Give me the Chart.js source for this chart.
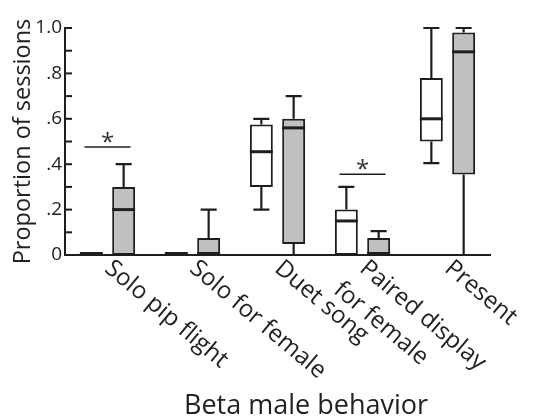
<!DOCTYPE html>
<html>
<head>
<meta charset="utf-8">
<script src="https://cdn.jsdelivr.net/npm/chart.js@4"></script>
<style>
  body { margin: 0; background: #fff; }
  #wrap { width: 549px; height: 417px; }
</style>
</head>
<body>
<div id="wrap"><canvas id="boxChart"></canvas></div>
<script>
// categories on the x axis
const categories = ['Solo pip flight', 'Solo for female', 'Duet song', ['Paired display', 'for female'], 'Present'];

// white boxes
const whiteMin = [0, 0, 0.20, 0, 0.405];
const whiteQ1  = [0, 0, 0.30, 0, 0.50];
const whiteMed = [0, 0, 0.455, 0.15, 0.60];
const whiteQ3  = [0, 0, 0.575, 0.20, 0.78];
const whiteMax = [0, 0, 0.60, 0.30, 1.0];

// gray boxes
const grayMin = [0, 0, 0, 0, 0];
const grayQ1  = [0, 0, 0.048, 0, 0.355];
const grayMed = [0.20, 0, 0.56, 0, 0.895];
const grayQ3  = [0.30, 0.075, 0.60, 0.075, 0.98];
const grayMax = [0.40, 0.20, 0.70, 0.105, 1.0];

// significance bars (null = none)
const sigLevels = [0.476, null, null, 0.356, null];

// y ticks
const yTickLabels = { 0: '0', 2: '.2', 4: '.4', 6: '.6', 8: '.8', 10: '1.0' };

const INK = '#1e1e1e';
const FONT = '"Open Sans", "Noto Sans", sans-serif';

const boxStats = [
    { min: whiteMin, q1: whiteQ1, med: whiteMed, q3: whiteQ3, max: whiteMax },
    { min: grayMin, q1: grayQ1, med: grayMed, q3: grayQ3, max: grayMax }
];

// whiskers, medians, inner ticks, labels
const boxPlugin = {
    id: 'boxPlugin',
    afterDatasetsDraw(chart) {
        const ctx = chart.ctx;
        const y = chart.scales.y;
        const x = chart.scales.x;
        const area = chart.chartArea;

        ctx.save();
        ctx.strokeStyle = INK;
        ctx.lineCap = 'butt';

        boxStats.forEach((s, di) => {
            const meta = chart.getDatasetMeta(di);
            meta.data.forEach((bar, i) => {
                const cx = bar.x;
                const w = bar.width;
                const cap = w * 0.7;
                ctx.lineWidth = 2.2;
                // upper whisker
                if (s.max[i] > s.q3[i]) {
                    const top = y.getPixelForValue(s.max[i]);
                    ctx.beginPath();
                    ctx.moveTo(cx, y.getPixelForValue(s.q3[i]));
                    ctx.lineTo(cx, top);
                    ctx.moveTo(cx - cap / 2, top);
                    ctx.lineTo(cx + cap / 2, top);
                    ctx.stroke();
                }
                // lower whisker
                if (s.min[i] < s.q1[i]) {
                    const bot = y.getPixelForValue(s.min[i]);
                    ctx.beginPath();
                    ctx.moveTo(cx, y.getPixelForValue(s.q1[i]));
                    ctx.lineTo(cx, bot);
                    ctx.moveTo(cx - cap / 2, bot);
                    ctx.lineTo(cx + cap / 2, bot);
                    ctx.stroke();
                }
                // median
                ctx.lineWidth = 3;
                const my = y.getPixelForValue(s.med[i]) - (s.med[i] === 0 ? 1.5 : 0);
                ctx.beginPath();
                ctx.moveTo(cx - w / 2, my);
                ctx.lineTo(cx + w / 2, my);
                ctx.stroke();
            });
        });

        // inner y ticks
        ctx.lineWidth = 2;
        for (let k = 0; k <= 10; k++) {
            const py = y.getPixelForValue(k / 10);
            ctx.beginPath();
            ctx.moveTo(area.left, py);
            ctx.lineTo(area.left + 7, py);
            ctx.stroke();
        }

        // significance bars
        const white = chart.getDatasetMeta(0).data;
        const gray = chart.getDatasetMeta(1).data;
        ctx.fillStyle = '#333';
        sigLevels.forEach((lvl, i) => {
            if (lvl === null) return;
            const x0 = white[i].x - white[i].width * 0.3;
            const x1 = gray[i].x + gray[i].width * 0.3;
            const py = y.getPixelForValue(lvl);
            ctx.lineWidth = 1.5;
            ctx.beginPath();
            ctx.moveTo(x0, py);
            ctx.lineTo(x1, py);
            ctx.stroke();
            ctx.font = '24px ' + FONT;
            ctx.textAlign = 'center';
            ctx.textBaseline = 'alphabetic';
            ctx.fillText('*', (x0 + x1) / 2, py + 3);
        });

        // rotated category labels
        ctx.fillStyle = '#222';
        ctx.font = '24px ' + FONT;
        ctx.textAlign = 'left';
        ctx.textBaseline = 'top';
        const ang = 40 * Math.PI / 180;
        categories.forEach((lab, i) => {
            const lines = Array.isArray(lab) ? lab : [lab];
            const px = x.getPixelForValue(i);
            lines.forEach((txt, li) => {
                const lh = 28 * li;
                ctx.save();
                ctx.translate(px + 8 - Math.sin(ang) * lh - 8 * li, area.bottom + 1 + Math.cos(ang) * lh);
                ctx.rotate(ang);
                ctx.fillText(txt, 0, 0);
                ctx.restore();
            });
        });

        // x axis title
        ctx.font = '27px ' + FONT;
        ctx.textAlign = 'center';
        ctx.textBaseline = 'alphabetic';
        ctx.fillText('Beta male behavior', 306, 414);

        ctx.restore();
    }
};

function renderChart() {
    const ctx = document.getElementById('boxChart');
    new Chart(ctx, {
        type: 'bar',
        data: {
            labels: categories.map(c => Array.isArray(c) ? c.join(' ') : c),
            datasets: [
                {
                    label: 'white',
                    data: whiteQ1.map((v, i) => [v, whiteQ3[i]]),
                    backgroundColor: '#ffffff',
                    borderColor: INK,
                    borderWidth: 2,
                    borderSkipped: false
                },
                {
                    label: 'gray',
                    data: grayQ1.map((v, i) => [v, grayQ3[i]]),
                    backgroundColor: '#c0c0c0',
                    borderColor: INK,
                    borderWidth: 2,
                    borderSkipped: false
                }
            ]
        },
        options: {
            responsive: true,
            maintainAspectRatio: false,
            animation: false,
            categoryPercentage: 0.76,
            barPercentage: 0.71,
            layout: { padding: { top: 28, right: 59, left: 9, bottom: 0 } },
            plugins: {
                legend: { display: false },
                tooltip: { enabled: false }
            },
            scales: {
                x: {
                    grid: { display: false, drawTicks: false },
                    border: { display: true, color: INK, width: 2 },
                    ticks: { display: false },
                    afterFit: (s) => { s.height = 162; }
                },
                y: {
                    min: 0,
                    max: 1,
                    grid: { display: false, drawTicks: false },
                    border: { display: true, color: INK, width: 2 },
                    ticks: {
                        stepSize: 0.1,
                        autoSkip: false,
                        padding: 3,
                        color: '#222',
                        font: { family: FONT, size: 19 },
                        callback: (v) => yTickLabels[Math.round(v * 10)] ?? ''
                    },
                    title: {
                        display: true,
                        text: 'Proportion of sessions',
                        color: '#222',
                        font: { family: FONT, size: 23.5 },
                        padding: { top: 0, bottom: 0 }
                    },
                    afterFit: (s) => { s.width = 56; }
                }
            }
        },
        plugins: [boxPlugin]
    });
}

document.addEventListener('DOMContentLoaded', renderChart);
</script>
</body>
</html>
